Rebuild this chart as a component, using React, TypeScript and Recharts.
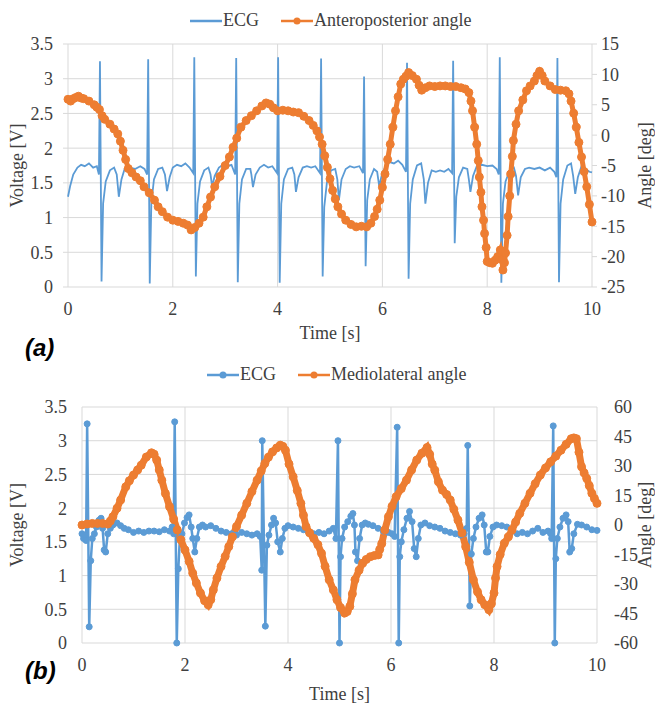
import { ComposedChart, Line, XAxis, YAxis, CartesianGrid } from "recharts";

// (a) ECG, [time s, voltage V]
const ecgA: [number, number][] = [
  [0.0, 1.3], [0.04, 1.45], [0.1, 1.62], [0.18, 1.72], [0.25, 1.76], [0.32, 1.74], [0.4, 1.78], [0.48, 1.72],
  [0.55, 1.74], [0.59, 1.62], [0.61, 3.25], [0.64, 0.08], [0.67, 1.2], [0.72, 1.52], [0.8, 1.68], [0.88, 1.72],
  [0.93, 1.62], [0.97, 1.3], [1.02, 1.55], [1.08, 1.7], [1.18, 1.72], [1.28, 1.7], [1.38, 1.74], [1.46, 1.7],
  [1.51, 1.62], [1.53, 3.28], [1.56, 0.05], [1.59, 1.2], [1.64, 1.55], [1.72, 1.7], [1.8, 1.72], [1.85, 1.62],
  [1.89, 1.38], [1.94, 1.58], [2.0, 1.72], [2.08, 1.76], [2.16, 1.74], [2.24, 1.78], [2.32, 1.72], [2.39, 1.64],
  [2.41, 3.31], [2.44, 0.15], [2.47, 1.2], [2.52, 1.52], [2.6, 1.68], [2.68, 1.72], [2.72, 1.62], [2.75, 1.45],
  [2.8, 1.6], [2.88, 1.72], [2.96, 1.76], [3.04, 1.74], [3.12, 1.76], [3.19, 1.62], [3.21, 3.3], [3.24, 0.07],
  [3.27, 1.2], [3.32, 1.55], [3.4, 1.7], [3.48, 1.7], [3.5, 1.62], [3.53, 1.44], [3.58, 1.62], [3.66, 1.72],
  [3.74, 1.76], [3.82, 1.72], [3.9, 1.74], [3.99, 1.64], [4.01, 3.31], [4.04, 0.06], [4.07, 1.2], [4.12, 1.55],
  [4.2, 1.7], [4.28, 1.72], [4.32, 1.62], [4.35, 1.37], [4.4, 1.58], [4.48, 1.72], [4.56, 1.74], [4.64, 1.72],
  [4.72, 1.74], [4.81, 1.64], [4.83, 3.29], [4.86, 0.15], [4.89, 1.15], [4.94, 1.5], [5.02, 1.68], [5.1, 1.7],
  [5.14, 1.55], [5.17, 1.25], [5.22, 1.55], [5.3, 1.7], [5.38, 1.74], [5.46, 1.72], [5.56, 1.74], [5.63, 1.64],
  [5.65, 3.03], [5.68, 0.3], [5.71, 1.25], [5.76, 1.55], [5.84, 1.7], [5.9, 1.66], [5.94, 1.45], [5.99, 1.62],
  [6.06, 1.74], [6.14, 1.8], [6.22, 1.78], [6.3, 1.82], [6.38, 1.76], [6.45, 1.66], [6.47, 3.23], [6.5, 0.12],
  [6.53, 1.2], [6.58, 1.55], [6.66, 1.75], [6.74, 1.78], [6.79, 1.55], [6.82, 1.2], [6.87, 1.5], [6.94, 1.68],
  [7.02, 1.66], [7.1, 1.68], [7.18, 1.66], [7.26, 1.7], [7.33, 1.64], [7.35, 3.26], [7.38, 0.63], [7.41, 1.3],
  [7.46, 1.58], [7.54, 1.72], [7.62, 1.7], [7.65, 1.55], [7.68, 1.37], [7.73, 1.6], [7.8, 1.74], [7.9, 1.76],
  [8.0, 1.74], [8.1, 1.75], [8.18, 1.7], [8.22, 1.62], [8.24, 3.31], [8.27, 0.06], [8.3, 1.2], [8.35, 1.52],
  [8.43, 1.68], [8.51, 1.72], [8.55, 1.6], [8.59, 1.32], [8.64, 1.58], [8.72, 1.7], [8.8, 1.72], [8.9, 1.7],
  [9.0, 1.72], [9.1, 1.68], [9.2, 1.72], [9.28, 1.66], [9.32, 1.58], [9.34, 3.3], [9.37, 0.07], [9.4, 1.2],
  [9.45, 1.55], [9.53, 1.75], [9.6, 1.78], [9.64, 1.6], [9.68, 1.34], [9.73, 1.58], [9.8, 1.74], [9.88, 1.7],
  [9.95, 1.66], [10.0, 1.65],
];

// (a) anteroposterior angle, [time s, deg]
const apAngle: [number, number][] = [
  [0.0, 5.9], [0.05, 5.6], [0.1, 6.0], [0.15, 6.2], [0.2, 6.4], [0.25, 6.1], [0.3, 6.0], [0.4, 5.6],
  [0.5, 5.0], [0.55, 4.6], [0.6, 4.2], [0.65, 3.2], [0.7, 2.6], [0.8, 1.8], [0.88, 1.0], [0.95, 0.2],
  [1.0, -1.0], [1.05, -2.5], [1.1, -4.0], [1.15, -5.5], [1.22, -6.2], [1.3, -6.9], [1.38, -7.5], [1.45, -8.5],
  [1.55, -9.5], [1.65, -10.7], [1.72, -11.8], [1.8, -12.6], [1.9, -13.5], [2.0, -14.0], [2.1, -14.2], [2.2, -14.5],
  [2.28, -14.8], [2.35, -15.6], [2.42, -15.2], [2.5, -14.5], [2.58, -13.5], [2.65, -11.8], [2.72, -10.2], [2.8, -8.5],
  [2.9, -6.8], [3.0, -5.0], [3.08, -3.6], [3.15, -2.0], [3.22, -0.5], [3.3, 1.3], [3.4, 2.4], [3.5, 3.2],
  [3.6, 4.0], [3.7, 4.8], [3.78, 5.3], [3.85, 5.1], [3.92, 4.5], [4.0, 4.0], [4.1, 4.1], [4.2, 4.0],
  [4.3, 3.8], [4.4, 3.7], [4.5, 3.1], [4.6, 2.4], [4.68, 1.6], [4.75, 0.7], [4.8, -0.3], [4.85, -1.5],
  [4.9, -3.4], [4.95, -5.3], [5.0, -7.2], [5.05, -9.1], [5.1, -10.5], [5.15, -11.8], [5.22, -13.0], [5.3, -14.0],
  [5.4, -14.7], [5.5, -15.1], [5.6, -15.0], [5.7, -15.1], [5.78, -14.5], [5.85, -13.4], [5.9, -12.2], [5.95, -10.7],
  [6.0, -8.6], [6.05, -6.4], [6.1, -4.0], [6.15, -1.5], [6.2, 1.3], [6.25, 4.0], [6.3, 6.3], [6.35, 8.4],
  [6.4, 9.2], [6.45, 9.7], [6.5, 10.3], [6.57, 9.8], [6.65, 9.2], [6.7, 8.2], [6.75, 7.4], [6.82, 7.8],
  [6.9, 8.1], [7.0, 8.0], [7.1, 8.1], [7.2, 8.1], [7.3, 8.0], [7.4, 8.0], [7.5, 7.8], [7.58, 7.6],
  [7.65, 7.0], [7.69, 5.6], [7.72, 4.0], [7.76, 1.3], [7.8, -1.5], [7.83, -4.2], [7.85, -6.9], [7.88, -9.4],
  [7.9, -11.8], [7.93, -14.0], [7.95, -16.2], [7.98, -18.5], [8.0, -20.8], [8.05, -21.0], [8.1, -21.1], [8.15, -20.6],
  [8.2, -20.0], [8.25, -18.9], [8.28, -20.5], [8.3, -22.2], [8.33, -21.0], [8.35, -19.4], [8.38, -16.5], [8.4, -13.4],
  [8.43, -10.0], [8.45, -6.4], [8.48, -3.5], [8.5, -0.9], [8.55, 1.8], [8.6, 4.0], [8.68, 5.8], [8.75, 7.3],
  [8.82, 8.1], [8.9, 8.9], [8.95, 9.8], [9.0, 10.5], [9.05, 9.8], [9.1, 8.9], [9.2, 8.1], [9.3, 7.5],
  [9.4, 7.4], [9.5, 7.3], [9.56, 6.8], [9.6, 5.6], [9.65, 3.6], [9.7, 1.3], [9.75, -1.2], [9.8, -3.6],
  [9.85, -6.0], [9.9, -8.5], [9.95, -11.4], [10.0, -14.3],
];

// (b) ECG, [time s, voltage V]
const ecgB: [number, number][] = [
  [0.0, 1.62], [0.03, 1.55], [0.06, 1.6], [0.08, 1.52], [0.1, 3.25], [0.14, 0.24], [0.17, 1.22], [0.2, 1.55],
  [0.24, 1.62], [0.28, 1.72], [0.33, 1.82], [0.37, 1.85], [0.4, 1.7], [0.43, 1.38], [0.46, 1.35], [0.5, 1.62],
  [0.55, 1.7], [0.6, 1.75], [0.68, 1.78], [0.75, 1.74], [0.82, 1.7], [0.9, 1.68], [1.0, 1.64], [1.1, 1.66],
  [1.2, 1.64], [1.3, 1.66], [1.4, 1.66], [1.5, 1.65], [1.6, 1.68], [1.7, 1.66], [1.75, 1.72], [1.78, 1.62],
  [1.8, 3.28], [1.84, 0.0], [1.87, 1.1], [1.9, 1.55], [1.94, 1.62], [1.99, 1.78], [2.04, 1.86], [2.08, 1.9],
  [2.12, 1.72], [2.15, 1.55], [2.19, 1.35], [2.23, 1.55], [2.28, 1.72], [2.34, 1.75], [2.4, 1.72], [2.5, 1.74],
  [2.6, 1.7], [2.7, 1.66], [2.8, 1.64], [2.9, 1.62], [3.0, 1.6], [3.1, 1.64], [3.2, 1.62], [3.3, 1.6],
  [3.4, 1.62], [3.46, 1.58], [3.49, 1.08], [3.5, 3.0], [3.56, 0.25], [3.59, 1.45], [3.63, 1.6], [3.68, 1.75],
  [3.72, 1.85], [3.76, 1.78], [3.8, 1.5], [3.85, 1.35], [3.89, 1.55], [3.94, 1.7], [4.0, 1.74], [4.1, 1.72],
  [4.2, 1.7], [4.3, 1.68], [4.4, 1.64], [4.5, 1.62], [4.6, 1.64], [4.7, 1.62], [4.8, 1.66], [4.88, 1.7],
  [4.93, 1.55], [4.97, 3.0], [5.0, 0.0], [5.02, 1.28], [5.05, 1.55], [5.1, 1.72], [5.16, 1.8], [5.22, 1.88],
  [5.26, 1.92], [5.29, 1.75], [5.31, 1.35], [5.35, 1.22], [5.39, 1.55], [5.44, 1.75], [5.5, 1.78], [5.56, 1.76],
  [5.65, 1.74], [5.75, 1.7], [5.85, 1.66], [5.95, 1.64], [6.02, 1.62], [6.07, 1.58], [6.12, 3.2], [6.15, 0.0],
  [6.17, 1.28], [6.2, 1.5], [6.25, 1.68], [6.31, 1.85], [6.36, 1.95], [6.41, 1.8], [6.45, 1.4], [6.49, 1.28],
  [6.53, 1.55], [6.58, 1.75], [6.66, 1.78], [6.75, 1.74], [6.85, 1.72], [6.95, 1.7], [7.05, 1.66], [7.15, 1.64],
  [7.25, 1.62], [7.35, 1.6], [7.42, 1.62], [7.47, 1.7], [7.49, 2.93], [7.53, 0.55], [7.56, 1.32], [7.6, 1.55],
  [7.65, 1.72], [7.71, 1.85], [7.77, 1.9], [7.81, 1.75], [7.85, 1.35], [7.88, 1.35], [7.92, 1.58], [7.98, 1.72],
  [8.05, 1.75], [8.15, 1.74], [8.25, 1.72], [8.35, 1.66], [8.45, 1.62], [8.55, 1.64], [8.65, 1.62], [8.75, 1.66],
  [8.85, 1.7], [8.95, 1.64], [9.05, 1.66], [9.1, 1.62], [9.12, 1.55], [9.15, 3.22], [9.18, 0.0], [9.2, 1.25],
  [9.23, 1.55], [9.28, 1.72], [9.34, 1.85], [9.4, 1.9], [9.44, 1.8], [9.47, 1.35], [9.51, 1.4], [9.55, 1.62],
  [9.62, 1.76], [9.7, 1.75], [9.8, 1.72], [9.9, 1.68], [10.0, 1.67],
];

// (b) mediolateral angle, [time s, deg]
const mlAngle: [number, number][] = [
  [0.0, 0.0], [0.1, 0.5], [0.2, 0.8], [0.3, 0.8], [0.4, 0.8], [0.5, 0.5], [0.55, 2.0], [0.6, 4.2],
  [0.68, 8.5], [0.75, 12.7], [0.85, 19.4], [0.92, 22.5], [1.0, 25.4], [1.08, 28.0], [1.15, 30.4], [1.25, 34.6],
  [1.35, 36.7], [1.4, 36.0], [1.45, 33.0], [1.5, 28.0], [1.55, 22.8], [1.62, 16.0], [1.7, 9.3], [1.78, 3.0],
  [1.85, -2.5], [1.92, -7.5], [2.0, -12.7], [2.08, -18.5], [2.15, -24.5], [2.22, -29.5], [2.3, -34.6], [2.38, -38.5],
  [2.45, -40.6], [2.5, -38.0], [2.55, -33.0], [2.62, -27.0], [2.7, -21.1], [2.78, -16.0], [2.85, -11.0], [2.92, -6.0],
  [3.0, -0.8], [3.1, 5.0], [3.2, 11.0], [3.3, 17.0], [3.4, 22.8], [3.48, 27.5], [3.55, 31.3], [3.62, 34.5],
  [3.7, 37.2], [3.78, 39.2], [3.85, 40.6], [3.9, 40.0], [3.95, 38.0], [4.02, 31.0], [4.1, 24.5], [4.18, 17.5],
  [4.25, 11.0], [4.3, 5.0], [4.35, -0.8], [4.42, -4.0], [4.5, -6.8], [4.58, -10.0], [4.65, -14.4], [4.72, -21.0],
  [4.8, -27.9], [4.88, -33.0], [4.95, -38.0], [5.02, -42.0], [5.1, -44.8], [5.15, -44.0], [5.2, -41.4], [5.25, -35.0],
  [5.3, -27.9], [5.38, -23.0], [5.45, -19.4], [5.52, -17.5], [5.6, -16.1], [5.68, -15.5], [5.75, -15.2], [5.78, -12.5],
  [5.82, -9.5], [5.88, -2.5], [5.95, 4.2], [6.02, 9.5], [6.1, 14.4], [6.2, 18.5], [6.3, 22.8], [6.4, 28.0],
  [6.5, 33.0], [6.6, 36.5], [6.7, 39.4], [6.75, 36.0], [6.8, 31.0], [6.85, 27.9], [6.92, 22.0], [7.0, 17.7],
  [7.08, 15.5], [7.15, 12.7], [7.22, 8.0], [7.3, 2.5], [7.38, -4.0], [7.45, -11.0], [7.52, -19.0], [7.6, -27.9],
  [7.68, -34.0], [7.75, -38.0], [7.82, -40.5], [7.9, -43.1], [7.95, -40.0], [8.0, -34.6], [8.03, -27.0], [8.06, -21.1],
  [8.12, -15.0], [8.2, -9.3], [8.28, -6.0], [8.35, -2.5], [8.42, 1.5], [8.5, 5.9], [8.6, 11.0], [8.7, 16.1],
  [8.8, 21.0], [8.9, 25.4], [9.0, 29.0], [9.1, 32.1], [9.2, 35.0], [9.3, 38.0], [9.4, 41.0], [9.5, 43.9],
  [9.55, 44.3], [9.6, 43.9], [9.65, 37.0], [9.7, 29.6], [9.75, 26.5], [9.8, 23.7], [9.85, 20.0], [9.9, 16.1],
  [9.95, 13.5], [10.0, 11.0],
];

const timeTicks = [0, 2, 4, 6, 8, 10];
const voltTicks = [0, 0.5, 1, 1.5, 2, 2.5, 3, 3.5];
const apTicks = [-25, -20, -15, -10, -5, 0, 5, 10, 15];
const mlTicks = [-60, -45, -30, -15, 0, 15, 30, 45, 60];

const BLUE = "#5B9BD5";
const ORANGE = "#ED7D31";
const GRID = "#d9d9d9";
const FONT = "'Liberation Serif', 'Times New Roman', serif";
const tickStyle = { fontSize: 18, fill: "#404040", fontFamily: "Liberation Serif", style: { fontFamily: FONT } };
const labelStyle = { fontSize: 18, fill: "#404040", textAnchor: "middle" as const, fontFamily: FONT };

const rows = (pts: [number, number][]) => pts.map(([t, v]) => ({ t, v }));

function LegendRow({ items, left, top }: { items: { name: string; color: string; dot: boolean }[]; left: number; top: number }) {
  return (
    <div style={{ position: "absolute", left, top, display: "flex", alignItems: "center", fontFamily: FONT, fontSize: 18, color: "#404040", whiteSpace: "nowrap" }}>
      {items.map((it, i) => (
        <div key={it.name} style={{ display: "flex", alignItems: "center", marginLeft: i === 0 ? 0 : 22 }}>
          <svg width={32} height={12}>
            <line x1={0} y1={6} x2={32} y2={6} stroke={it.color} strokeWidth={2.5} />
            {it.dot && <circle cx={16} cy={6} r={3.5} fill={it.color} />}
          </svg>
          <span style={{ marginLeft: 1 }}>{it.name}</span>
        </div>
      ))}
    </div>
  );
}

function PanelA() {
  return (
    <div style={{ position: "absolute", left: 0, top: 0, fontFamily: FONT }}>
      <ComposedChart width={655} height={352} margin={{ top: 44, right: 0, bottom: 0, left: 0 }}>
        <CartesianGrid yAxisId="left" stroke={GRID} strokeWidth={1} />
        <XAxis dataKey="t" type="number" domain={[0, 10]} ticks={timeTicks} height={65} axisLine={false} tickLine={false}
          tickMargin={9} tick={tickStyle} allowDuplicatedCategory={false}
          label={{ value: "Time [s]", position: "insideBottom", offset: 13, style: labelStyle }} />
        <YAxis yAxisId="left" type="number" domain={[0, 3.5]} ticks={voltTicks} width={68} axisLine={false}
          tickLine={{ stroke: GRID }} tickSize={5} tickMargin={10} tick={tickStyle}
          label={{ value: "Voltage [V]", angle: -90, position: "insideLeft", offset: 17, style: labelStyle }} />
        <YAxis yAxisId="right" orientation="right" type="number" domain={[-25, 15]} ticks={apTicks} width={63} axisLine={false}
          tickLine={{ stroke: GRID }} tickSize={5} tickMargin={4} tick={tickStyle}
          label={{ value: "Angle [deg]", angle: -90, position: "insideRight", offset: 10, style: labelStyle }} />
        <Line yAxisId="left" data={rows(ecgA)} dataKey="v" name="ECG" type="linear" stroke={BLUE} strokeWidth={1.8} dot={false} isAnimationActive={false} />
        <Line yAxisId="right" data={rows(apAngle)} dataKey="v" name="Anteroposterior angle" type="linear" stroke={ORANGE} strokeWidth={5}
          dot={{ r: 4, fill: ORANGE, stroke: ORANGE, strokeWidth: 1 }} isAnimationActive={false} />
      </ComposedChart>
      <LegendRow left={190} top={10} items={[{ name: "ECG", color: BLUE, dot: false }, { name: "Anteroposterior angle", color: ORANGE, dot: true }]} />
    </div>
  );
}

function PanelB() {
  return (
    <div style={{ position: "absolute", left: 0, top: 360, fontFamily: FONT }}>
      <ComposedChart width={655} height={344} margin={{ top: 47, right: 0, bottom: 0, left: 0 }}>
        <CartesianGrid yAxisId="left" stroke={GRID} strokeWidth={1} />
        <XAxis dataKey="t" type="number" domain={[0, 10]} ticks={timeTicks} height={61} axisLine={false} tickLine={false}
          tickMargin={9} tick={tickStyle} allowDuplicatedCategory={false}
          label={{ value: "Time [s]", position: "insideBottom", offset: 4, style: labelStyle }} />
        <YAxis yAxisId="left" type="number" domain={[0, 3.5]} ticks={voltTicks} width={82} axisLine={false} tickLine={false}
          tickMargin={9} tick={tickStyle}
          label={{ value: "Voltage [V]", angle: -90, position: "insideLeft", offset: 29, dx: -12, style: labelStyle }} />
        <YAxis yAxisId="right" orientation="right" type="number" domain={[-60, 60]} ticks={mlTicks} width={58} axisLine={false} tickLine={false}
          tickMargin={11} tick={tickStyle}
          label={{ value: "Angle [deg]", angle: -90, position: "insideRight", offset: 10, style: labelStyle }} />
        <Line yAxisId="left" data={rows(ecgB)} dataKey="v" name="ECG" type="linear" stroke={BLUE} strokeWidth={2.5}
          dot={{ r: 3, fill: BLUE, stroke: BLUE, strokeWidth: 1 }} isAnimationActive={false} />
        <Line yAxisId="right" data={rows(mlAngle)} dataKey="v" name="Mediolateral angle" type="linear" stroke={ORANGE} strokeWidth={7}
          dot={{ r: 4, fill: ORANGE, stroke: ORANGE, strokeWidth: 1 }} isAnimationActive={false} />
      </ComposedChart>
      <LegendRow left={207} top={4} items={[{ name: "ECG", color: BLUE, dot: true }, { name: "Mediolateral angle", color: ORANGE, dot: true }]} />
    </div>
  );
}

const panelTag = { position: "absolute" as const, fontFamily: "'Liberation Sans', Arial, sans-serif", fontWeight: 700, fontStyle: "italic" as const, fontSize: 24, color: "#000", lineHeight: "26px" };

export default function App() {
  return (
    <div style={{ position: "absolute", left: 0, top: 0, width: 655, height: 704, background: "#fff", overflow: "hidden" }}>
      <PanelA />
      <PanelB />
      <div style={{ ...panelTag, left: 25, top: 335 }}>(a)</div>
      <div style={{ ...panelTag, left: 25, top: 658 }}>(b)</div>
    </div>
  );
}
